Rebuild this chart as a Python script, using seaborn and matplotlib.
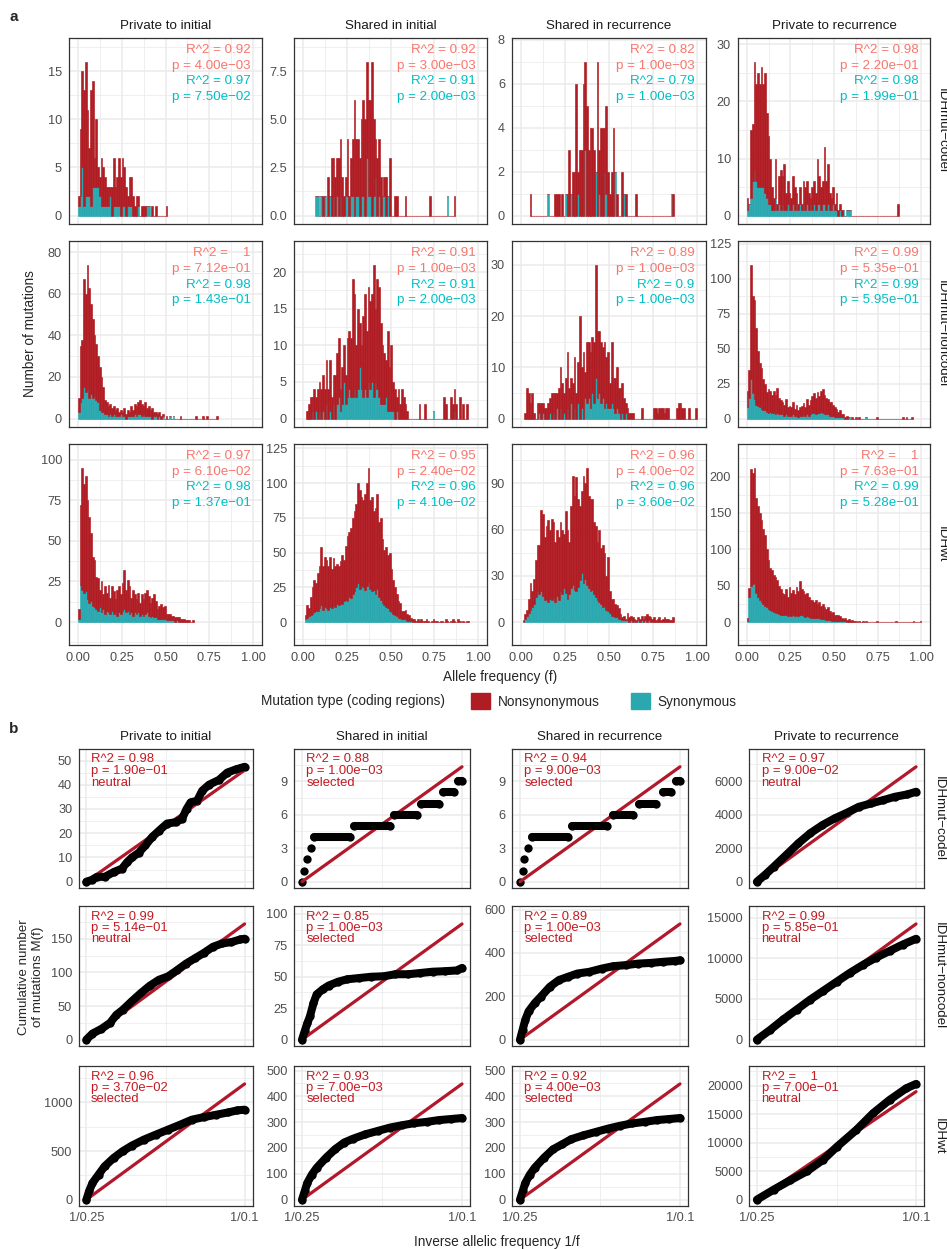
import numpy as np
import pandas as pd
import seaborn as sns
import matplotlib
matplotlib.use("Agg")
import matplotlib.pyplot as plt
from matplotlib.patches import Patch

# ---------------- labels ----------------
row_names = ["IDHmut\u2212codel", "IDHmut\u2212noncodel", "IDHwt"]
col_names = ["Private to initial", "Shared in initial", "Shared in recurrence", "Private to recurrence"]

# ---------------- panel a: counts per 0.01 allele-frequency bin ----------------
codel_pi_start = 0
codel_pi_total = [2, 9, 15, 13, 16, 11, 7, 13, 14, 6, 10, 5, 4, 6, 5, 4, 3, 3, 3, 3, 6, 3, 4, 6, 4, 6, 5, 3, 2, 4,
                  4, 2, 1, 2, 2, 0, 1, 1, 1, 1, 1, 0, 1, 0, 1, 0, 0, 0, 0, 0, 1]
codel_pi_syn = [1, 2, 5, 1, 2, 2, 2, 1, 3, 3, 3, 3, 2, 1, 1, 1, 1, 1, 2, 0, 1, 1, 1, 1, 0, 1, 1, 0, 1, 1,
                1, 0, 0, 0, 1, 0, 0, 0, 0, 1, 1]

codel_si_start = 7
codel_si_total = [1, 1, 0, 1, 1, 1, 0, 2, 1, 3, 3, 2, 3, 3, 4, 2, 1, 2, 4, 1, 3, 4, 6, 4, 4, 3, 5, 6, 5, 8,
                  6, 6, 8, 5, 4, 3, 4, 2, 1, 2, 2, 1, 3, 0, 0, 1, 1, 0, 0, 0, 0, 1] + [0] * 13 + [1] + [0] * 9 + [1, 0, 0, 0, 1]
codel_si_syn = [1, 1, 0, 1, 0, 1, 0, 0, 1, 0, 1, 0, 1, 0, 1, 0, 0, 1, 1, 0, 1, 1, 0, 1, 1, 0, 1, 1, 0, 3,
                1, 1, 0, 1, 2, 0, 1, 0, 1, 1, 0, 1] + [0] * 33 + [1]

codel_sr_start = 5
codel_sr_total = [1] + [0] * 9 + [1, 0, 0, 0, 1, 1, 1, 0, 1, 0, 1, 1, 3, 1, 2, 2, 6, 2, 3, 3,
                                  6, 7, 5, 3, 4, 4, 3, 2, 7, 3, 4, 4, 4, 5, 2, 1, 2, 4, 2, 1,
                                  0, 0, 2, 1, 1] + [0] * 5 + [1] + [0] * 19 + [1, 1]
codel_sr_syn = [0] * 10 + [1] + [0] * 9 + [1, 0, 0, 1, 0, 0, 0, 1, 0, 0, 0, 3, 0, 0, 0, 0, 0, 2, 0, 1,
                                          0, 0, 2, 1, 0, 0, 0, 0, 2, 0, 0, 0, 0, 1] + [0] * 26 + [1]

codel_pr_start = 0
codel_pr_total = [3, 2, 15, 16, 27, 23, 25, 23, 26, 23, 25, 18, 14, 10, 5, 3, 10, 2, 7, 8,
                  7, 9, 4, 6, 4, 3, 7, 5, 4, 2, 5, 2, 6, 5, 6, 4, 3, 5, 6, 4,
                  10, 7, 5, 6, 12, 6, 9, 4, 3, 5, 2, 4, 1, 2, 1, 1, 0, 1, 1, 1] + [0] * 26 + [2]
codel_pr_syn = [1, 2, 3, 6, 8, 6, 5, 5, 5, 5, 4, 3, 2, 2, 1, 1, 3, 1, 2, 1,
                2, 1, 1, 2, 1, 1, 2, 1, 2, 1, 2, 1, 2, 1, 2, 1, 2, 1, 2, 1,
                2, 2, 1, 2, 2, 1, 2, 1, 1, 2, 1, 1, 0, 1, 0, 1, 0, 1, 1, 1]

noncodel_pi_start = 0
noncodel_pi_total = [10, 35, 38, 67, 60, 74, 63, 55, 48, 40, 36, 30, 25, 20, 15, 9, 8, 6, 7, 5,
                     6, 4, 5, 3, 4, 3, 5, 2, 4, 3, 6, 4, 7, 6, 8, 9, 7, 6, 8, 5,
                     6, 4, 5, 3, 3, 2, 3, 1, 2, 0, 1, 0, 1, 0, 1, 0, 0, 0, 1] + [0] * 8 + [1, 0, 0, 0, 1, 0, 1] + [0] * 5 + [1]
noncodel_pi_syn = [3, 8, 10, 15, 13, 14, 10, 12, 10, 11, 9, 8, 4, 3, 3, 2, 2, 1, 2, 1,
                   2, 1, 1, 1, 2, 1, 1, 0, 1, 1, 1, 1, 2, 1, 2, 2, 1, 2, 1, 1,
                   1, 1, 0, 1, 1, 0, 1, 0, 1, 0, 0, 0, 1, 0, 1]

noncodel_si_start = 2
noncodel_si_total = [1, 2, 3, 3, 4, 3, 4, 5, 4, 6, 4, 8, 4, 8, 3, 6, 6, 9, 11, 4,
                     7, 10, 6, 11, 12, 11, 19, 17, 10, 15, 13, 10, 14, 17, 12, 18, 16, 17, 21, 15,
                     19, 18, 13, 10, 9, 8, 12, 7, 10, 5, 4, 3, 4, 2, 4, 3, 2, 1] + [0] * 6 + \
                    [2, 0, 0, 2, 0, 0, 0, 0, 1, 0, 0, 0, 0, 0, 3, 2, 0, 0, 3, 2, 4, 2, 0, 3, 0, 2, 0, 2]
noncodel_si_syn = [0, 0, 0, 1, 0, 1, 0, 1, 0, 1, 0, 2, 0, 1, 0, 2, 0, 2, 3, 1,
                   2, 5, 2, 3, 4, 3, 3, 4, 3, 4, 7, 4, 3, 4, 3, 5, 4, 5, 3, 5,
                   4, 3, 2, 2, 2, 3, 1, 1, 1, 1, 0, 1] + [0] * 20 + [1] + [0] * 11 + [1]

noncodel_sr_start = 2
noncodel_sr_total = [1, 6, 5, 3, 5, 1, 0, 3, 3, 3, 3, 2, 2, 3, 4, 5, 5, 5, 5, 6,
                     10, 7, 5, 8, 13, 6, 8, 7, 12, 5, 11, 20, 10, 13, 9, 15, 15, 13, 16, 15,
                     30, 17, 17, 15, 14, 15, 12, 13, 7, 15, 8, 8, 10, 6, 6, 7, 4, 3, 2, 1,
                     1, 1] + [0] * 4 + [2] + [0] * 6 + [2, 2, 1, 2, 2, 2, 1, 2, 2] + [0] * 4 + \
                    [2, 3, 3, 2, 2, 0, 0, 2, 0, 0, 0, 2]
noncodel_sr_syn = [0, 0, 0, 0, 0, 0, 0, 0, 1, 0, 1, 0, 0, 0, 1, 0, 1, 0, 2, 0,
                   2, 0, 1, 0, 2, 0, 3, 0, 2, 0, 3, 0, 2, 0, 4, 3, 4, 2, 5, 3,
                   8, 4, 5, 3, 4, 2, 3, 2, 2, 3, 2, 1, 2, 1, 0, 1, 0, 1]

noncodel_pr_start = 0
noncodel_pr_total = [20, 35, 110, 88, 85, 65, 48, 40, 36, 28, 25, 19, 21, 20, 17, 20, 17, 22, 15, 13,
                     12, 10, 14, 8, 9, 8, 12, 7, 10, 6, 8, 9, 11, 8, 14, 10, 13, 16, 18, 15,
                     19, 16, 20, 21, 17, 15, 14, 12, 12, 10, 8, 7, 5, 6, 3, 3, 1, 2, 1, 0,
                     1, 0, 1, 0, 1, 0, 0, 0, 1] + [0] * 5 + [1] + [0] * 14 + [1, 0, 1, 0, 0, 1]
noncodel_pr_syn = [8, 15, 28, 18, 14, 10, 9, 8, 7, 6, 6, 5, 4, 5, 4, 4, 3, 4, 3, 3,
                   3, 2, 3, 2, 2, 2, 3, 2, 2, 1, 2, 2, 3, 2, 3, 2, 3, 4, 4, 3,
                   4, 4, 5, 4, 3, 3, 3, 2, 2, 2, 1, 1, 1, 1, 1, 1, 0, 0, 1] + [0] * 9 + [1]

wt_pi_start = 0
wt_pi_total = [8, 72, 95, 85, 90, 75, 65, 55, 40, 38, 28, 27, 20, 25, 17, 22, 18, 23, 15, 22,
               19, 14, 20, 22, 17, 24, 32, 20, 26, 22, 15, 20, 17, 14, 18, 12, 17, 14, 18, 20,
               16, 12, 15, 17, 13, 8, 10, 11, 9, 10, 5, 5, 5, 4, 4, 3, 3, 3, 2, 2,
               2, 1, 1, 1, 0, 1]
wt_pi_syn = [2, 23, 20, 18, 19, 14, 12, 13, 10, 9, 8, 7, 9, 6, 8, 5, 7, 6, 5, 7,
             5, 6, 4, 6, 5, 7, 8, 6, 7, 5, 6, 4, 6, 5, 6, 4, 5, 4, 5, 6,
             4, 3, 4, 3, 3, 2, 2, 2, 2, 2, 1, 1, 1, 1, 1, 0, 1]

wt_si_start = 1
wt_si_total = [5, 12, 10, 18, 25, 30, 28, 35, 40, 54, 40, 47, 45, 40, 47, 38, 46, 40, 42, 40,
               44, 48, 45, 55, 62, 65, 68, 75, 80, 85, 100, 95, 90, 88, 92, 100, 111, 88, 90, 80,
               82, 92, 72, 75, 60, 52, 54, 48, 50, 38, 30, 25, 20, 15, 14, 8, 8, 9, 6, 5,
               3, 2, 2, 1, 2, 1, 2, 1, 1, 2, 1, 0, 1, 2, 1, 1, 0, 1, 1, 0,
               2, 1, 0, 1, 2, 1, 0, 2, 1, 0, 1, 0, 1, 1]
wt_si_syn = [2, 3, 4, 5, 6, 7, 8, 8, 10, 12, 9, 11, 10, 9, 11, 10, 12, 11, 13, 12,
             14, 13, 15, 16, 15, 18, 17, 20, 22, 25, 28, 24, 27, 25, 23, 26, 29, 24, 22, 23,
             20, 24, 18, 16, 14, 12, 11, 10, 8, 7, 6, 5, 4, 3, 3, 2, 2, 2, 1, 1, 1]

wt_sr_start = 1
wt_sr_total = [1, 5, 8, 15, 25, 20, 28, 40, 50, 50, 73, 70, 55, 62, 66, 60, 67, 65, 52, 60,
               55, 65, 60, 57, 72, 60, 52, 75, 95, 82, 94, 80, 75, 85, 95, 90, 100, 82, 80, 80,
               65, 62, 52, 60, 48, 50, 45, 30, 42, 20, 15, 15, 12, 11, 9, 5, 3, 4, 2, 6,
               3, 4, 3, 2, 1, 3, 2, 4, 2, 4, 5, 4, 3, 2, 3, 1, 2, 3, 1, 2,
               3, 2, 2, 1, 1, 3]
wt_sr_syn = [0, 2, 4, 6, 8, 10, 12, 16, 20, 18, 20, 17, 14, 15, 13, 15, 14, 16, 13, 17,
             14, 20, 18, 22, 19, 15, 18, 22, 24, 21, 20, 23, 27, 32, 25, 28, 24, 22, 20, 21,
             18, 16, 14, 13, 12, 10, 11, 8, 7, 6, 4, 4, 3, 3, 2, 2, 1, 1, 1, 1,
             0, 1, 0, 1, 0, 1, 0, 1, 0, 1, 0, 1]

wt_pr_start = 0
wt_pr_total = [5, 47, 210, 205, 212, 170, 160, 150, 140, 128, 120, 100, 85, 75, 72, 65, 62, 58, 50, 45,
               40, 38, 45, 35, 48, 40, 44, 38, 48, 42, 57, 45, 42, 38, 40, 35, 30, 30, 28, 30,
               25, 28, 22, 25, 20, 18, 20, 15, 12, 14, 10, 9, 10, 8, 5, 4, 6, 3, 4, 2,
               3, 2, 2, 0, 1, 0, 2, 0, 1] + [0] * 5 + [1] + [0] * 10 + [1] + [0] * 9 + [1] + [0] * 3 + [1]
wt_pr_syn = [2, 35, 50, 52, 53, 40, 35, 30, 28, 25, 22, 20, 18, 16, 15, 14, 12, 12, 11, 10,
             9, 9, 10, 8, 9, 8, 9, 8, 9, 8, 10, 9, 8, 7, 8, 7, 6, 6, 6, 5,
             5, 5, 4, 4, 4, 3, 3, 3, 2, 2, 2, 2, 1, 1, 1, 1, 1]

# y tick steps of panel a (rows x cols)
a_ystep = [[5, 2.5, 2, 10], [20, 5, 10, 25], [25, 25, 30, 50]]

# fit statistics printed in panel a
a_r2_non = [["0.92", "0.92", "0.82", "0.98"], ["   1", "0.91", "0.89", "0.99"], ["0.97", "0.95", "0.96", "   1"]]
a_p_non = [["4.00e-03", "3.00e-03", "1.00e-03", "2.20e-01"], ["7.12e-01", "1.00e-03", "1.00e-03", "5.35e-01"],
           ["6.10e-02", "2.40e-02", "4.00e-02", "7.63e-01"]]
a_r2_syn = [["0.97", "0.91", "0.79", "0.98"], ["0.98", "0.91", "0.9", "0.99"], ["0.98", "0.96", "0.96", "0.99"]]
a_p_syn = [["7.50e-02", "2.00e-03", "1.00e-03", "1.99e-01"], ["1.43e-01", "2.00e-03", "1.00e-03", "5.95e-01"],
           ["1.37e-01", "4.10e-02", "3.60e-02", "5.28e-01"]]

# ---------------- panel b: cumulative mutations vs 1/f ----------------
b_codel_pi_x = [4.0, 4.2, 4.4, 4.7, 5.04, 5.35, 5.54, 5.73, 5.99, 6.24, 6.49, 6.75, 7.06, 7.38, 7.63, 7.8,
                7.95, 8.2, 8.39, 8.65, 9.03, 9.34, 9.66, 10.0]
b_codel_pi_y = [0, 0.7, 2, 2, 4, 5.4, 8, 10, 12, 15, 18.4, 21, 24, 24.5, 26, 30, 32.7, 33.4, 37.5, 40, 42, 45,
                46.3, 47.4]
b_codel_si_x = [4.0, 4.09, 4.2, 4.32, 4.45, 5.8, 5.95, 7.3, 7.45, 8.3, 8.45, 9.15, 9.3, 9.7, 9.85, 10.0]
b_codel_si_y = [0, 1, 2, 3, 4, 4, 5, 5, 6, 6, 7, 7, 8, 8, 9, 9]
b_codel_si_seg = [0, 1, 2, 3, 4, 4, 5, 5, 6, 6, 7, 7, 8, 8, 9, 9]
b_codel_sr_x = [4.0, 4.1, 4.15, 4.3, 4.45, 5.8, 5.95, 7.27, 7.5, 8.25, 8.45, 9.1, 9.35, 9.65, 9.85, 10.0]
b_codel_sr_y = [0, 1, 2, 3, 4, 4, 5, 5, 6, 6, 7, 7, 8, 8, 9, 9]
b_codel_sr_seg = [0, 1, 2, 3, 4, 4, 5, 5, 6, 6, 7, 7, 8, 8, 9, 9]
b_codel_pr_x = [4.0, 4.3, 4.64, 5.1, 5.56, 6.0, 6.47, 6.93, 7.4, 7.84, 8.3, 8.76, 9.2, 9.67, 10.0]
b_codel_pr_y = [0, 400, 900, 1590, 2290, 2880, 3380, 3780, 4120, 4470, 4670, 4870, 5070, 5210, 5370]

b_noncodel_pi_x = [4.0, 4.23, 4.57, 4.9, 5.14, 5.37, 5.72, 6.06, 6.4, 6.75, 7.1, 7.43, 7.78, 8.12, 8.46, 8.8,
                   9.15, 9.5, 9.84, 10.0]
b_noncodel_pi_y = [0, 9, 16, 25, 37, 44, 57, 69, 80, 89, 94, 103, 113, 121, 129, 138, 143, 145, 149, 150]
b_noncodel_si_x = [4.0, 4.1, 4.2, 4.3, 4.43, 4.55, 4.78, 5.0, 5.35, 5.7, 6.15, 6.6, 7.07, 7.5, 7.98, 8.44, 8.9,
                   9.35, 9.8, 10.0]
b_noncodel_si_y = [0, 6.6, 13, 18.6, 29, 36, 40, 43, 46, 48, 49, 50, 50.4, 52, 52, 53, 54, 54.4, 55, 57]
b_noncodel_sr_x = [4.0, 4.1, 4.2, 4.32, 4.55, 4.78, 5.12, 5.46, 5.8, 6.15, 6.6, 7.07, 7.5, 7.98, 8.44, 8.9, 9.35,
                   9.8, 10.0]
b_noncodel_sr_y = [0, 46, 92, 130, 168, 198, 244, 275, 290, 305, 313, 328, 339, 344, 351, 354, 359, 363, 366]
b_noncodel_pr_x = [4.0, 4.5, 5.0, 5.5, 6.0, 6.5, 7.0, 7.5, 8.0, 8.5, 9.0, 9.5, 10.0]
b_noncodel_pr_y = [0, 1200, 2500, 3700, 4900, 6000, 7100, 8200, 9200, 10100, 10900, 11700, 12400]

b_wt_pi_x = [4.0, 4.1, 4.23, 4.46, 4.69, 5.03, 5.37, 5.72, 6.17, 6.63, 7.09, 7.55, 8.0, 8.46, 8.92, 9.38, 9.72, 10.0]
b_wt_pi_y = [0, 86, 171, 257, 342, 428, 497, 555, 616, 668, 719, 770, 822, 849, 873, 897, 918, 925]
b_wt_si_x = [4.0, 4.1, 4.2, 4.37, 4.55, 4.9, 5.24, 5.58, 5.92, 6.38, 6.84, 7.3, 7.75, 8.2, 8.67, 9.13, 9.58, 10.0]
b_wt_si_y = [0, 32, 65, 97, 123, 162, 195, 221, 236, 253, 266, 279, 288, 296, 301, 308, 312, 316]
b_wt_sr_x = [4.0, 4.1, 4.2, 4.37, 4.55, 4.9, 5.24, 5.58, 5.92, 6.38, 6.84, 7.3, 7.75, 8.2, 8.67, 9.13, 9.58, 10.0]
b_wt_sr_y = [0, 32, 65, 97, 123, 162, 195, 214, 234, 249, 262, 275, 286, 295, 301, 308, 312, 316]
b_wt_pr_x = [4.0, 4.63, 5.25, 5.88, 6.5, 7.0, 7.75, 8.38, 9.0, 9.63, 10.0]
b_wt_pr_y = [0, 1750, 3380, 4960, 7000, 9210, 12240, 15160, 17490, 19530, 20300]

# neutral-model fit: value of the fitted line at 1/f = 10
b_fit_end = [[46, 10.3, 10.3, 6860], [172, 92, 534, 14230], [1190, 448, 448, 18950]]
b_ystep = [[10, 3, 3, 2000], [50, 25, 200, 5000], [500, 100, 100, 5000]]
b_r2 = [["0.98", "0.88", "0.94", "0.97"], ["0.99", "0.85", "0.89", "0.99"], ["0.96", "0.93", "0.92", "   1"]]
b_p = [["1.90e-01", "1.00e-03", "9.00e-03", "9.00e-02"], ["5.14e-01", "1.00e-03", "1.00e-03", "5.85e-01"],
       ["3.70e-02", "7.00e-03", "4.00e-03", "7.00e-01"]]
b_call = [["neutral", "selected", "selected", "neutral"], ["neutral", "selected", "selected", "neutral"],
          ["selected", "selected", "selected", "neutral"]]

hist_data = [
    [(codel_pi_start, codel_pi_total, codel_pi_syn), (codel_si_start, codel_si_total, codel_si_syn),
     (codel_sr_start, codel_sr_total, codel_sr_syn), (codel_pr_start, codel_pr_total, codel_pr_syn)],
    [(noncodel_pi_start, noncodel_pi_total, noncodel_pi_syn), (noncodel_si_start, noncodel_si_total, noncodel_si_syn),
     (noncodel_sr_start, noncodel_sr_total, noncodel_sr_syn), (noncodel_pr_start, noncodel_pr_total, noncodel_pr_syn)],
    [(wt_pi_start, wt_pi_total, wt_pi_syn), (wt_si_start, wt_si_total, wt_si_syn),
     (wt_sr_start, wt_sr_total, wt_sr_syn), (wt_pr_start, wt_pr_total, wt_pr_syn)],
]
cum_data = [
    [(b_codel_pi_x, b_codel_pi_y, None), (b_codel_si_x, b_codel_si_y, b_codel_si_seg),
     (b_codel_sr_x, b_codel_sr_y, b_codel_sr_seg), (b_codel_pr_x, b_codel_pr_y, None)],
    [(b_noncodel_pi_x, b_noncodel_pi_y, None), (b_noncodel_si_x, b_noncodel_si_y, None),
     (b_noncodel_sr_x, b_noncodel_sr_y, None), (b_noncodel_pr_x, b_noncodel_pr_y, None)],
    [(b_wt_pi_x, b_wt_pi_y, None), (b_wt_si_x, b_wt_si_y, None),
     (b_wt_sr_x, b_wt_sr_y, None), (b_wt_pr_x, b_wt_pr_y, None)],
]

# ---------------- style ----------------
sns.set_style("white")
plt.rcParams["font.family"] = ["Liberation Sans", "DejaVu Sans"]

RED = "#B01C23"
TEAL = "#2AA8B0"
SALMON = "#F8766D"
CYAN = "#00BFC4"
LINE_RED = "#B2182B"
TXT_RED = "#C41A22"
GRID = "#EBEBEB"
BORDER = "#333333"
TICK_TXT = "#4D4D4D"
MINUS = "\u2212"

W, H = 947, 1249
fig = plt.figure(figsize=(W / 100, H / 100), dpi=100)


def rect(l, t, r, b):
    return [l / W, 1 - b / H, (r - l) / W, (b - t) / H]


def ftext(x, y, s, **kw):
    fig.text(x / W, 1 - y / H, s, **kw)


def yticks_for(step, lo, hi):
    major = np.arange(0, hi + 1e-9, step)
    minor = np.arange(-step / 2, hi, step)
    minor = minor[(minor > lo) & (minor < hi)]
    if float(step).is_integer():
        labels = [f"{int(v)}" for v in major]
    else:
        labels = [f"{v:.1f}" for v in major]
    return major, minor, labels


def style(ax, xlim, xmajor, xminor, xlabels, ylim, ystep, pad=2.2):
    ax.set_xlim(*xlim)
    ax.set_ylim(*ylim)
    ymaj, ymin, ylab = yticks_for(ystep, ylim[0], ylim[1])
    ax.set_xticks(xmajor)
    ax.set_xticks(xminor, minor=True)
    ax.set_xticklabels(xlabels if xlabels else [])
    ax.set_yticks(ymaj)
    ax.set_yticks(ymin, minor=True)
    ax.set_yticklabels(ylab)
    ax.grid(which="major", color=GRID, lw=1.1)
    ax.grid(which="minor", color=GRID, lw=0.55)
    ax.set_axisbelow(True)
    ax.tick_params(which="major", length=2.9, width=0.8, color=BORDER, labelsize=9.2,
                   labelcolor=TICK_TXT, pad=pad)
    ax.tick_params(which="minor", length=0)
    for s in ax.spines.values():
        s.set_color(BORDER)
        s.set_linewidth(0.9)
    ax.set_xlabel("")
    ax.set_ylabel("")


# ---------------- panel a ----------------
a_cols = [(69, 262), (294, 487), (512, 706), (738, 930)]
a_rows = [(37.7, 224), (241, 427), (444, 645)]
a_lowpad = [0.055, 0.055, 0.149]
a_text_off = [12.3, 27.9, 43.5, 59.1]

for i, (t, b) in enumerate(a_rows):
    for j, (l, r) in enumerate(a_cols):
        ax = fig.add_axes(rect(l, t, r, b))
        start, total, syn = hist_data[i][j]
        n = len(total)
        syn_full = np.array(syn + [0] * (n - len(syn)))
        tot = np.array(total)
        non = tot - syn_full
        centers = (np.arange(start, start + n) + 0.5) / 100
        df = pd.DataFrame({
            "f": np.r_[centers, centers],
            "count": np.r_[non, syn_full],
            "type": ["Nonsynonymous"] * n + ["Synonymous"] * n,
        })
        sns.histplot(df, x="f", weights="count", hue="type",
                     hue_order=["Nonsynonymous", "Synonymous"],
                     palette={"Nonsynonymous": RED, "Synonymous": TEAL},
                     binwidth=0.01, binrange=(start / 100, (start + n) / 100),
                     multiple="stack", element="bars", alpha=1,
                     legend=False, ax=ax)
        teal_rgba = matplotlib.colors.to_rgba(TEAL)
        for p in ax.patches:
            fc = p.get_facecolor()
            p.set_edgecolor(fc)
            if np.allclose(fc, teal_rgba, atol=0.02) and p.get_height() == 0:
                p.set_linewidth(0)
            else:
                p.set_linewidth(0.45)
        M = tot.max()
        style(ax, (-0.05, 1.05), [0, 0.25, 0.5, 0.75, 1.0], [0.125, 0.375, 0.625, 0.875],
              ["0.00", "0.25", "0.50", "0.75", "1.00"] if i == 2 else None,
              (-a_lowpad[i] * M, 1.155 * M), a_ystep[i][j])
        hpx = b - t
        xf = 1 - 11.5 / (r - l)
        lines = [(f"R^2 = {a_r2_non[i][j]}", SALMON), (f"p = {a_p_non[i][j]}".replace("-", MINUS), SALMON),
                 (f"R^2 = {a_r2_syn[i][j]}", CYAN), (f"p = {a_p_syn[i][j]}".replace("-", MINUS), CYAN)]
        for (txt, col), off in zip(lines, a_text_off):
            ax.text(xf, 1 - off / hpx, txt, transform=ax.transAxes, ha="right", va="center",
                    color=col, fontsize=9.6)
        if i == 0:
            ftext((l + r) / 2, 25.7, col_names[j], ha="center", va="center", fontsize=9.6, color="#1A1A1A")
    ftext(941.5, (t + b) / 2, row_names[i], rotation=270, ha="center", va="center", fontsize=9.6,
          color="#1A1A1A")

ftext(14, 17, "a", fontsize=11, fontweight="bold", ha="center", va="center")
ftext(30.5, 334, "Number of mutations", rotation=90, ha="center", va="center", fontsize=9.8)
ftext(500, 677, "Allele frequency (f)", ha="center", va="center", fontsize=9.8)

# legend
ftext(261, 701, "Mutation type (coding regions)", ha="left", va="center", fontsize=9.8)
handles = [Patch(facecolor=RED, edgecolor=RED, label="Nonsynonymous"),
           Patch(facecolor=TEAL, edgecolor=TEAL, label="Synonymous")]
fig.legend(handles=handles, loc="center left", bbox_to_anchor=(471 / W, 1 - 701 / H), ncol=2,
           frameon=False, fontsize=9.8, handlelength=1.4, handleheight=1.4, handletextpad=0.55,
           columnspacing=2.3, borderpad=0, borderaxespad=0)

# ---------------- panel b ----------------
b_cols = [(78.5, 252.5), (294, 470), (512, 688), (749, 924)]
b_rows = [(749, 888), (906, 1046), (1066, 1206)]
b_text_off = [10.5, 22.0, 33.5]

for i, (t, b) in enumerate(b_rows):
    for j, (l, r) in enumerate(b_cols):
        ax = fig.add_axes(rect(l, t, r, b))
        xs, ys, seg = cum_data[i][j]
        seg = seg if seg is not None else [0] * len(xs)
        df = pd.DataFrame({"x": xs, "y": ys, "seg": seg})
        fit_end = b_fit_end[i][j]
        sns.lineplot(x=[4, 10], y=[0, fit_end], color=LINE_RED, lw=2.3, ax=ax)
        sns.lineplot(data=df, x="x", y="y", units="seg", estimator=None, sort=False, color="black",
                     lw=5.8, solid_capstyle="round", ax=ax)
        sns.scatterplot(data=df, x="x", y="y", color="black", s=36, linewidth=0, ax=ax)
        M = max(max(ys), fit_end)
        style(ax, (3.7, 10.3), [4, 10], [7], ["1/0.25", "1/0.1"] if i == 2 else None,
              (-0.055 * M, 1.155 * M), b_ystep[i][j], pad=1.6)
        hpx = b - t
        xf = 12.5 / (r - l)
        for txt, off in zip([f"R^2 = {b_r2[i][j]}", f"p = {b_p[i][j]}".replace("-", MINUS), b_call[i][j]],
                            b_text_off):
            ax.text(xf, 1 - off / hpx, txt, transform=ax.transAxes, ha="left", va="center",
                    color=TXT_RED, fontsize=9.4)
        if i == 0:
            ftext((l + r) / 2, 736.7, col_names[j], ha="center", va="center", fontsize=9.6, color="#1A1A1A")
    ftext(939, (t + b) / 2, row_names[i], rotation=270, ha="center", va="center", fontsize=9.6,
          color="#1A1A1A")

ftext(14, 729, "b", fontsize=11, fontweight="bold", ha="center", va="center")
ftext(31, 977, "Cumulative number\nof mutations M(f)", rotation=90, ha="center", va="center",
      fontsize=9.6, linespacing=1.25)
ftext(497, 1242, "Inverse allelic frequency 1/f", ha="center", va="center", fontsize=9.8)

fig.savefig("out.png", dpi=100)
